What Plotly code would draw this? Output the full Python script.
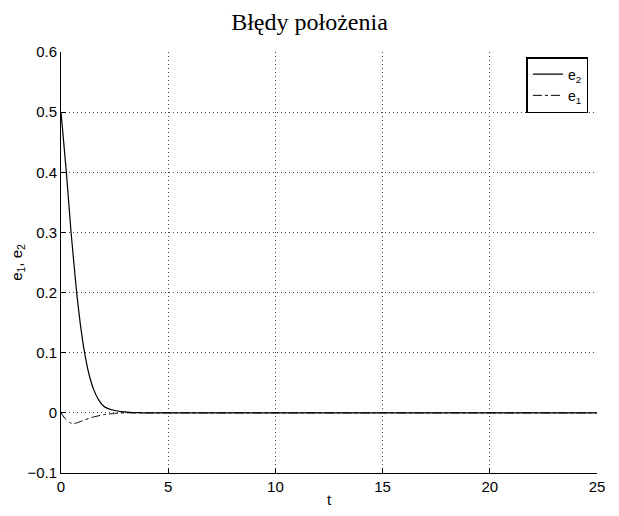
import plotly.graph_objects as go

t_e2 = [0, 0.25, 0.47, 0.73, 0.9, 1.1, 1.3, 1.52, 1.75, 1.99, 2.2, 2.45, 2.8, 3.2, 3.6, 4.0, 25]
e2 = [0.5, 0.4, 0.3, 0.2, 0.148, 0.1, 0.065, 0.039, 0.022, 0.011, 0.007, 0.0044, 0.002, 0.0008, 0.0003, 0.0, 0.0]

t_e1 = [0, 0.2, 0.4, 0.55, 0.8, 1.0, 1.5, 2.0, 2.5, 3.0, 4.0, 25]
e1 = [0.0, -0.010, -0.016, -0.018, -0.016, -0.013, -0.007, -0.003, -0.001, 0.0, 0.0, 0.0]

x_ticks = [0, 5, 10, 15, 20, 25]
y_ticks = [-0.1, 0, 0.1, 0.2, 0.3, 0.4, 0.5, 0.6]
y_tick_labels = ["\u22120.1", "0", "0.1", "0.2", "0.3", "0.4", "0.5", "0.6"]

fig = go.Figure()
fig.add_trace(go.Scatter(x=t_e2, y=e2, mode="lines", name="e<sub>2</sub>",
                         line=dict(color="black", width=1.2, shape="spline", smoothing=0.4)))
fig.add_trace(go.Scatter(x=t_e1, y=e1, mode="lines", name="e<sub>1</sub>",
                         line=dict(color="black", width=1, dash="dashdot", shape="spline", smoothing=0.4)))

axis_font = dict(family="Liberation Sans, Arial, sans-serif", size=15, color="black")
grid = dict(showgrid=True, gridcolor="#444444", griddash="1px,3px", gridwidth=1)
fig.update_layout(
    width=619, height=516,
    margin=dict(l=61, r=22, t=52, b=43),
    paper_bgcolor="white", plot_bgcolor="white",
    title=dict(text="Błędy położenia", x=0.5, xanchor="center", y=0.975, yanchor="top",
               font=dict(family="Liberation Serif, Times New Roman, serif", size=24, color="black")),
    font=axis_font,
    showlegend=True,
    legend=dict(x=0.984, y=0.988, xanchor="right", yanchor="top",
                bgcolor="white", bordercolor="black", borderwidth=1.5,
                font=dict(family="Liberation Sans, Arial, sans-serif", size=14, color="black"),
                itemwidth=30, tracegroupgap=0),
    xaxis=dict(range=[0, 25], tickvals=x_ticks, ticks="inside", ticklen=5, tickcolor="black",
               showline=True, linecolor="black", linewidth=1, mirror=False,
               zeroline=False, tickfont=axis_font, automargin=False,
               title=dict(text="t", font=axis_font, standoff=0), **grid),
    yaxis=dict(range=[-0.1, 0.6], tickvals=y_ticks, ticktext=y_tick_labels, ticks="inside", ticklen=5,
               tickcolor="black", showline=True, linecolor="black", linewidth=1, mirror=False,
               zeroline=False, tickfont=axis_font, automargin=False,
               title=dict(text="e<sub>1</sub>, e<sub>2</sub>", font=axis_font, standoff=1), **grid),
)

fig.write_html("out.html", config={"displayModeBar": False},
               post_script="document.body.style.margin='0';document.body.style.overflow='hidden';")
